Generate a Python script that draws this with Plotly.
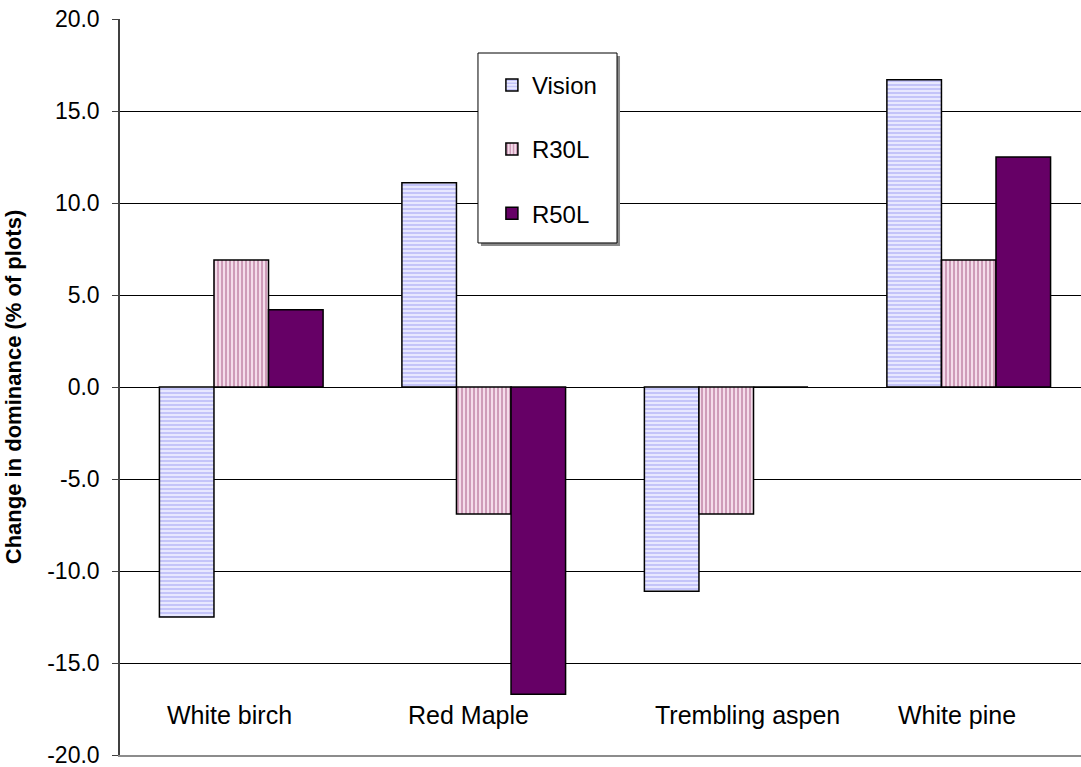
import plotly.graph_objects as go

# Species (categories) and change in dominance for each scenario
species = ["White birch", "Red Maple", "Trembling aspen", "White pine"]
vision = [-12.5, 11.1, -11.1, 16.7]
r30l = [6.9, -6.9, -6.9, 6.9]
r50l = [4.2, -16.7, 0.0, 12.5]

y_ticks = [-20, -15, -10, -5, 0, 5, 10, 15, 20]
y_tick_text = [f"{v:.1f}" for v in y_ticks]

FONT = "Liberation Sans, Arial, sans-serif"
outline = dict(color="#000000", width=1.5)

fig = go.Figure()
fig.add_trace(go.Bar(
    name="Vision", x=species, y=vision, legendgroup="a",
    marker=dict(color="#E6E6FF", line=outline,
                pattern=dict(shape="-", fgcolor="#9A9AF2", bgcolor="#E8E8FF",
                             size=4, solidity=0.45)),
))
fig.add_trace(go.Bar(
    name="R30L", x=species, y=r30l, legendgroup="b",
    marker=dict(color="#F2D6E6", line=outline,
                pattern=dict(shape="|", fgcolor="#A04C7C", bgcolor="#F4DCEA",
                             size=4, solidity=0.45)),
))
fig.add_trace(go.Bar(
    name="R50L", x=species, y=r50l, legendgroup="c",
    marker=dict(color="#660066", line=outline),
))

# Category names sit inside the plot area, between the -15 and -20 lines
label_shift = [-12, -15, 21, -12]
for s, dx in zip(species, label_shift):
    fig.add_annotation(x=s, y=-17.8, xref="x", yref="y", text=s, xshift=dx,
                       showarrow=False, font=dict(size=25, color="#000000"))

# Legend frame with a soft drop shadow
fig.add_shape(type="rect", xref="paper", yref="paper",
              x0=0.3756, x1=0.5203, y0=0.6916, y1=0.9497,
              line=dict(width=0), fillcolor="#8A8A8A", layer="above")
fig.add_shape(type="rect", xref="paper", yref="paper",
              x0=0.3725, x1=0.5172, y0=0.6957, y1=0.9538,
              line=dict(color="#000000", width=1), fillcolor="white",
              layer="above")

fig.update_layout(
    width=1081, height=767,
    margin=dict(l=120, r=0, t=19, b=12),
    paper_bgcolor="white", plot_bgcolor="white",
    font=dict(family=FONT, size=23, color="#000000"),
    barmode="group", bargap=0.325, bargroupgap=0,
    showlegend=True,
    legend=dict(
        x=0.387, y=0.9405, xanchor="left", yanchor="top",
        bgcolor="rgba(0,0,0,0)", borderwidth=0,
        font=dict(size=24, family=FONT),
        tracegroupgap=30, itemwidth=30,
        traceorder="grouped",
    ),
    xaxis=dict(
        range=[-0.5, 3.463], showticklabels=False, ticks="",
        showgrid=False, zeroline=False,
        showline=True, linecolor="#8C8C8C", linewidth=2,
        fixedrange=True,
    ),
    yaxis=dict(
        range=[-20, 20], tickvals=y_ticks, ticktext=y_tick_text,
        ticks="outside", ticklen=6, tickcolor="#404040", tickwidth=1,
        ticklabelstandoff=8, ticklabeloverflow="allow",
        showline=True, linecolor="#404040", linewidth=1.5,
        showgrid=True, gridcolor="#000000", gridwidth=1,
        zeroline=True, zerolinecolor="#000000", zerolinewidth=1,
        tickfont=dict(size=23),
        title=dict(text="<b>Change in dominance (% of plots)</b>",
                   font=dict(size=22), standoff=20),
    ),
)

fig.write_html("out.html")
